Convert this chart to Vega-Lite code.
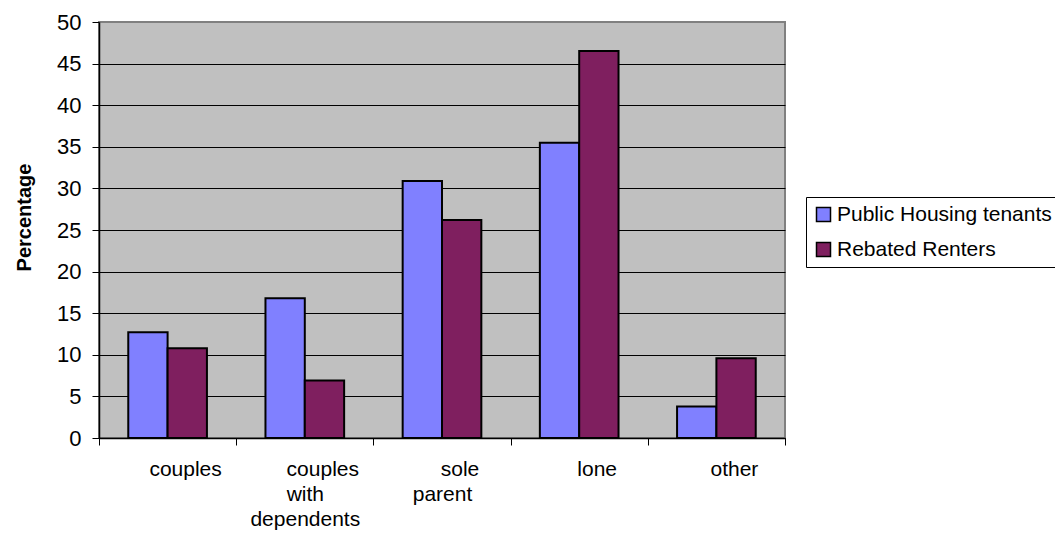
{
  "$schema": "https://vega.github.io/schema/vega-lite/v6.json",
  "width": 686,
  "height": 416,
  "autosize": {"type": "none"},
  "padding": {"left": 99, "top": 22, "right": 270, "bottom": 98},
  "background": "white",
  "config": {
    "font": "Liberation Sans",
    "view": {"fill": "#C0C0C0", "stroke": "#808080", "strokeWidth": 2}
  },
  "data": {
    "values": [
      {"category": "couples", "series": "Public Housing tenants", "value": 12.7},
      {"category": "couples", "series": "Rebated Renters", "value": 10.8},
      {"category": "couples with dependents", "series": "Public Housing tenants", "value": 16.8},
      {"category": "couples with dependents", "series": "Rebated Renters", "value": 6.9},
      {"category": "sole parent", "series": "Public Housing tenants", "value": 30.9},
      {"category": "sole parent", "series": "Rebated Renters", "value": 26.2},
      {"category": "lone", "series": "Public Housing tenants", "value": 35.5},
      {"category": "lone", "series": "Rebated Renters", "value": 46.5},
      {"category": "other", "series": "Public Housing tenants", "value": 3.8},
      {"category": "other", "series": "Rebated Renters", "value": 9.6}
    ]
  },
  "mark": {"type": "bar", "stroke": "black", "strokeWidth": 2},
  "encoding": {
    "x": {
      "field": "category",
      "type": "nominal",
      "sort": null,
      "scale": {"paddingInner": 0, "paddingOuter": 0},
      "axis": {
        "title": null,
        "labelAngle": 0,
        "labelFontSize": 21,
        "labelColor": "black",
        "labelExpr": "split('\u200b\u00a0\u00a0\u00a0\u00a0\u00a0\u00a0' + datum.label, ' ')",
        "labelLineHeight": 25,
        "labelBaseline": "top",
        "labelPadding": 13,
        "labelLimit": 300,
        "tickBand": "extent",
        "tickSize": 7,
        "tickColor": "black",
        "domainColor": "black",
        "domainWidth": 1.5
      }
    },
    "xOffset": {
      "field": "series",
      "type": "nominal",
      "sort": ["Public Housing tenants", "Rebated Renters"],
      "scale": {"paddingInner": 0, "paddingOuter": 0.744}
    },
    "y": {
      "field": "value",
      "type": "quantitative",
      "scale": {"domain": [0, 50], "nice": false},
      "axis": {
        "title": "Percentage",
        "titleFontSize": 20,
        "titleFontWeight": "bold",
        "titleColor": "black",
        "titleX": -75,
        "titleY": 195,
        "titleAngle": -90,
        "titleAlign": "center",
        "titleBaseline": "middle",
        "values": [0, 5, 10, 15, 20, 25, 30, 35, 40, 45, 50],
        "labelFontSize": 22,
        "labelColor": "black",
        "labelPadding": 11,
        "tickSize": 7,
        "tickColor": "black",
        "domainColor": "black",
        "domainWidth": 1.5,
        "grid": true,
        "gridColor": {"condition": {"test": "datum.value == 50", "value": "#808080"}, "value": "black"},
        "gridWidth": 1
      }
    },
    "color": {
      "field": "series",
      "type": "nominal",
      "scale": {"domain": ["Public Housing tenants", "Rebated Renters"], "range": ["#8080FF", "#7F1F5F"]},
      "legend": {
        "title": null,
        "orient": "none",
        "legendX": 707,
        "legendY": 175,
        "strokeColor": "black",
        "fillColor": "white",
        "padding": 7,
        "labelFontSize": 21,
        "labelColor": "black",
        "labelLimit": 400,
        "labelOffset": 3,
        "rowPadding": 13,
        "symbolType": "square",
        "symbolSize": 196,
        "symbolStrokeColor": "black",
        "symbolStrokeWidth": 1.5
      }
    }
  }
}
